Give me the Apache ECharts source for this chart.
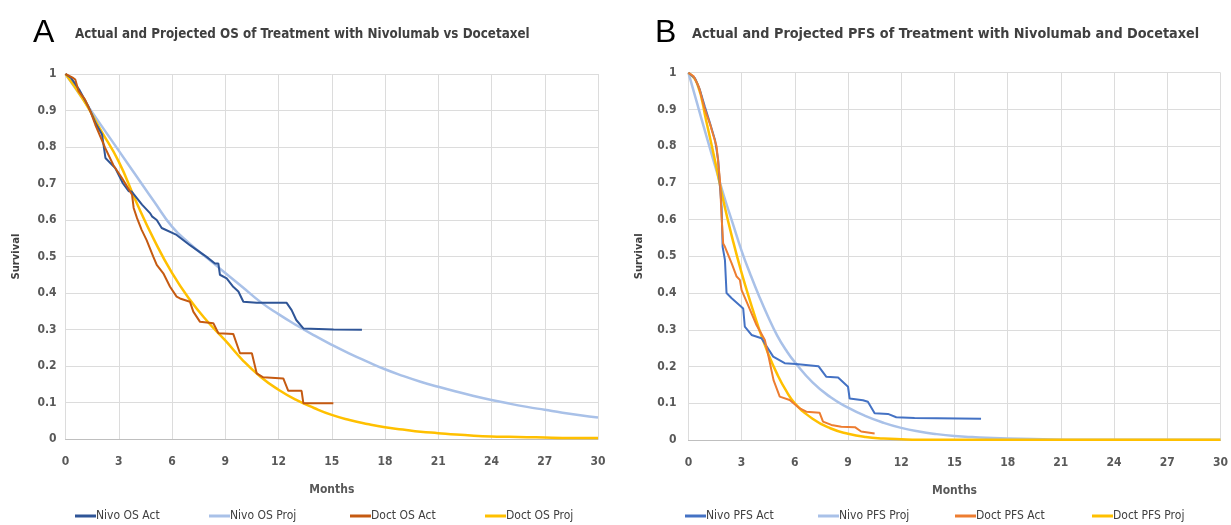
<!DOCTYPE html>
<html>
<head>
<meta charset="utf-8">
<script src="https://cdn.jsdelivr.net/npm/echarts@6/dist/echarts.min.js"></script>
<style>
html,body{margin:0;padding:0;background:#fff;}
#c{width:1231px;height:525px;}
</style>
</head>
<body>
<div id="c"></div>
<script>
// ---------- DATA ----------
const xTicks = [0,3,6,9,12,15,18,21,24,27,30];
const seriesNamesOS = ['Nivo OS Act','Nivo OS Proj','Doct OS Act','Doct OS Proj'];
const seriesNamesPFS = ['Nivo PFS Act','Nivo PFS Proj','Doct PFS Act','Doct PFS Proj'];

// Panel A (OS) – actual KM curves [month, survival]
const nivoOsAct = [[0,1],[0.3,0.99],[0.8,0.955],[1.3,0.91],[1.7,0.865],[2.06,0.834],[2.25,0.77],[2.8,0.742],
  [3.24,0.70],[3.56,0.679],[3.73,0.678],[4.31,0.642],[4.76,0.619],[4.87,0.61],[5.14,0.60],[5.42,0.578],
  [6.26,0.559],[7.01,0.531],[7.95,0.499],[8.42,0.481],[8.61,0.481],[8.70,0.45],[9.08,0.44],[9.45,0.417],
  [9.74,0.404],[10.02,0.376],[10.77,0.373],[12.46,0.373],[12.74,0.353],[13.0,0.326],[13.4,0.303],
  [15.1,0.30],[16.7,0.299]];
const doctOsAct = [[0,1],[0.4,0.99],[0.55,0.985],[0.74,0.953],[1.1,0.93],[1.4,0.898],[1.68,0.861],[2.24,0.797],
  [2.7,0.75],[3.18,0.715],[3.75,0.669],[3.84,0.633],[4.03,0.605],[4.29,0.573],[4.57,0.545],[4.95,0.499],
  [5.14,0.477],[5.51,0.454],[5.89,0.417],[6.26,0.39],[6.45,0.385],[7.01,0.376],[7.2,0.349],[7.58,0.321],
  [8.33,0.317],[8.61,0.29],[9.45,0.288],[9.83,0.235],[10.5,0.235],[10.77,0.18],[11.14,0.169],[12.27,0.166],
  [12.55,0.132],[13.3,0.132],[13.4,0.098],[15.09,0.098]];
// Panel A projections at whole months 0..30
const osProjMonths = [0,1,2,3,4,5,6,7,8,9,10,11,12,13,14,15,16,17,18,19,20,21,22,23,24,25,26,27,28,29,30];
const nivoOsProj = [1,0.93,0.86,0.79,0.72,0.65,0.582,0.535,0.495,0.455,0.415,0.375,0.342,0.312,0.284,0.258,
  0.234,0.212,0.191,0.173,0.157,0.143,0.13,0.118,0.107,0.097,0.088,0.08,0.072,0.065,0.059];
const doctOsProj = [1,0.93,0.845,0.76,0.648,0.545,0.455,0.382,0.322,0.27,0.215,0.17,0.135,0.107,0.085,0.066,
  0.052,0.041,0.032,0.026,0.02,0.016,0.012,0.009,0.007,0.006,0.005,0.004,0.003,0.003,0.003];

// Panel B (PFS) – actual KM curves [month, survival]
const nivoPfsAct = [[0,1],[0.37,0.985],[0.65,0.953],[0.93,0.907],[1.22,0.862],[1.5,0.817],[1.68,0.762],
  [1.78,0.69],[1.87,0.635],[1.93,0.526],[2.06,0.49],[2.15,0.40],[2.44,0.386],[3.09,0.358],[3.18,0.309],
  [3.56,0.286],[4.12,0.277],[4.78,0.227],[5.43,0.209],[6.06,0.207],[7.33,0.201],[7.78,0.172],[8.44,0.17],
  [9.0,0.145],[9.09,0.113],[9.84,0.108],[10.12,0.104],[10.5,0.073],[11.25,0.071],[11.72,0.062],
  [12.75,0.06],[16.5,0.058]];
const doctPfsAct = [[0,1],[0.3,0.99],[0.6,0.96],[0.93,0.9],[1.22,0.86],[1.59,0.799],[1.78,0.708],[1.87,0.608],
  [1.96,0.535],[2.06,0.526],[2.44,0.481],[2.72,0.445],[2.9,0.436],[3.0,0.408],[3.28,0.377],[3.84,0.313],
  [4.31,0.272],[4.52,0.227],[4.8,0.163],[5.15,0.118],[5.71,0.109],[6.28,0.086],[6.65,0.077],[7.4,0.074],
  [7.59,0.05],[8.06,0.041],[8.62,0.036],[9.39,0.035],[9.74,0.023],[10.5,0.018]];
// Panel B projections
const pfsProjMonths = [0,0.5,1,1.5,2,2.5,3,3.5,4,4.5,5,5.5,6,7,8,9,10,11,12,13,14,15,16,18,20,22,24,26,28,30];
const nivoPfsProj = [1,0.915,0.83,0.747,0.665,0.59,0.515,0.45,0.39,0.335,0.285,0.245,0.212,0.157,0.117,0.088,
  0.065,0.047,0.033,0.023,0.016,0.011,0.008,0.004,0.002,0.001,0.001,0.001,0.001,0.001];
const doctPfsProj = [1,0.97,0.87,0.76,0.645,0.545,0.455,0.375,0.30,0.235,0.18,0.135,0.10,0.058,0.032,0.017,
  0.008,0.004,0.002,0.001,0.001,0.001,0.001,0.001,0.001,0.001,0.001,0.001,0.001,0.001];

// ---------- CHART ----------
const FONT = "'DejaVu Sans Condensed','Liberation Sans Narrow',sans-serif";
const zip = (xs, ys) => xs.map((x, i) => [x, ys[i]]);
const chart = echarts.init(document.getElementById('c'), null, {renderer: 'canvas'});

function xAxis(gi){
  return {gridIndex: gi, type: 'value', min: 0, max: 30, interval: 3,
    name: 'Months', nameLocation: 'middle', nameGap: 45,
    nameTextStyle: {fontFamily: FONT, fontSize: 12, fontWeight: 'bold', color: '#595959'},
    axisLine: {show: true, lineStyle: {color: '#bfbfbf', width: 1}},
    axisTick: {show: false},
    axisLabel: {fontFamily: FONT, fontSize: 12, fontWeight: 'bold', color: '#595959', margin: 17},
    splitLine: {show: true, lineStyle: {color: '#dcdcdc', width: 1}}};
}
function yAxis(gi){
  return {gridIndex: gi, type: 'value', min: 0, max: 1, interval: 0.1,
    name: 'Survival', nameLocation: 'middle', nameGap: 44, nameRotate: 90,
    nameTextStyle: {fontFamily: "'DejaVu Sans',sans-serif", fontSize: 10, fontWeight: 'bold', color: '#404040'},
    axisLine: {show: false}, axisTick: {show: false},
    axisLabel: {fontFamily: FONT, fontSize: 12, fontWeight: 'bold', color: '#595959', margin: gi === 0 ? 9 : 12},
    splitLine: {show: true, lineStyle: {color: '#dcdcdc', width: 1}}};
}
function line(name, data, gi, color, width, smooth){
  return {name, type: 'line', xAxisIndex: gi, yAxisIndex: gi, data, showSymbol: false, symbol: 'none',
    smooth: smooth ? 0.5 : false,
    lineStyle: {color, width}, itemStyle: {color}, animation: false, z: smooth ? 2 : 3};
}
function legendItem(name, left){
  return {data: [name], left, top: 510, padding: 0, icon: 'rect', itemWidth: 21, itemHeight: 3,
    textStyle: {fontFamily: FONT, fontSize: 12, color: '#404040', padding: [0,0,0,-5]}};
}

const C = {nivoAct1: '#2F5597', nivoAct2: '#4472C4', nivoProj: '#A9C1E8', doctAct1: '#C55A11', doctAct2: '#ED7D31', doctProj: '#FFC000'};

chart.setOption({
  backgroundColor: '#ffffff',
  animation: false,
  title: [
    {text: 'A', left: 28, top: 12, textStyle: {fontFamily: "'Liberation Sans',sans-serif", fontSize: 32, fontWeight: 'normal', color: '#000'}},
    {text: 'Actual and Projected OS of Treatment with Nivolumab vs Docetaxel', left: 70, top: 23,
      textStyle: {fontFamily: FONT, fontSize: 13.3, fontWeight: 'bold', color: '#404040'}},
    {text: 'B', left: 650, top: 12, textStyle: {fontFamily: "'Liberation Sans',sans-serif", fontSize: 32, fontWeight: 'normal', color: '#000'}},
    {text: 'Actual and Projected PFS of Treatment with Nivolumab and Docetaxel', left: 687, top: 22,
      textStyle: {fontFamily: FONT, fontSize: 14.3, fontWeight: 'bold', color: '#404040'}}
  ],
  grid: [
    {left: 65.5, top: 74, width: 532.5, height: 365},
    {left: 688.4, top: 72.7, width: 533.4, height: 367.3}
  ],
  xAxis: [xAxis(0), xAxis(1)],
  yAxis: [yAxis(0), yAxis(1)],
  legend: [
    legendItem(seriesNamesOS[0], 75), legendItem(seriesNamesOS[1], 209),
    legendItem(seriesNamesOS[2], 350), legendItem(seriesNamesOS[3], 485),
    legendItem(seriesNamesPFS[0], 685), legendItem(seriesNamesPFS[1], 818),
    legendItem(seriesNamesPFS[2], 955), legendItem(seriesNamesPFS[3], 1092)
  ],
  series: [
    line(seriesNamesOS[1], zip(osProjMonths, nivoOsProj), 0, C.nivoProj, 2.5, true),
    line(seriesNamesOS[3], zip(osProjMonths, doctOsProj), 0, C.doctProj, 2.5, true),
    line(seriesNamesOS[0], nivoOsAct, 0, C.nivoAct1, 2, false),
    line(seriesNamesOS[2], doctOsAct, 0, C.doctAct1, 2, false),
    line(seriesNamesPFS[1], zip(pfsProjMonths, nivoPfsProj), 1, C.nivoProj, 2.5, true),
    line(seriesNamesPFS[3], zip(pfsProjMonths, doctPfsProj), 1, C.doctProj, 2.5, true),
    line(seriesNamesPFS[0], nivoPfsAct, 1, C.nivoAct2, 2, false),
    line(seriesNamesPFS[2], doctPfsAct, 1, C.doctAct2, 2, false)
  ]
});
</script>
</body>
</html>
